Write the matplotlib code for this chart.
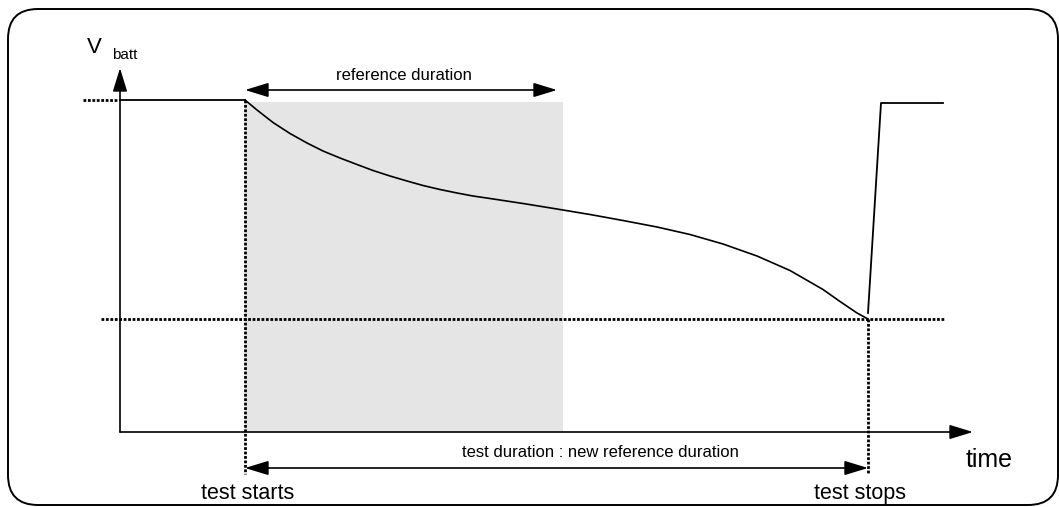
import matplotlib.pyplot as plt
from matplotlib.patches import FancyBboxPatch, FancyArrowPatch, Rectangle

plt.rcParams['font.family'] = ['Liberation Sans', 'DejaVu Sans']

# Schematic values (x = time, y = voltage, both in picture units, y grows downwards)
t_axis_origin = 120
t_axis_end = 973
v_axis_origin = 432
v_axis_end = 68

v_high = 100
v_cutoff = 319
v_recovered = 103

t_start = 245
t_stop = 868
t_recovered = 881
t_end = 943
t_reference_end = 563

# discharge curve between test start and test stop
discharge_t = [245, 257, 273, 290, 307, 323, 340, 357, 373, 390, 407, 423, 440, 457, 473,
               490, 523, 557, 590, 623, 657, 690, 723, 757, 790, 823, 840, 857, 868]
discharge_v = [100, 110, 122.5, 133.5, 143, 151, 158, 164.5, 170.5, 176, 181, 185.5, 189.5, 193, 196,
               198.5, 203.5, 209, 214.5, 220.5, 227, 234.5, 244, 256, 270.5, 289.5, 301.5, 313, 319]

labels = {
    "vbatt": "V",
    "vbatt_sub": "batt",
    "time": "time",
    "reference": "reference duration",
    "test": "test duration : new reference duration",
    "start": "test starts",
    "stop": "test stops",
}

fig = plt.figure(figsize=(10.59, 5.07), dpi=100)
ax = fig.add_axes([0, 0, 1, 1])
ax.set_xlim(0, 1059)
ax.set_ylim(507, 0)
ax.axis("off")

# outer rounded frame
frame = FancyBboxPatch((8, 9), 1050, 496, boxstyle="round,pad=0,rounding_size=30",
                       facecolor="white", edgecolor="black", linewidth=1.4, zorder=0)
ax.add_patch(frame)

# grey reference window
ax.add_patch(Rectangle((t_start, v_recovered - 1), t_reference_end - t_start, v_axis_origin - v_recovered + 1,
                       facecolor="#e5e5e5", edgecolor="none", zorder=1))

def arrow(p0, p1, style):
    a = FancyArrowPatch(p0, p1, arrowstyle=style, mutation_scale=20, shrinkA=0, shrinkB=0,
                        color="black", linewidth=1.2, zorder=5)
    ax.add_patch(a)

headStyle = "-|>,head_length=0.72,head_width=0.22"
bothStyle = "<|-|>,head_length=0.72,head_width=0.22"

# axes
arrow((t_axis_origin, v_axis_origin), (t_axis_origin, v_axis_end), headStyle)
arrow((t_axis_origin, v_axis_origin), (t_axis_end, v_axis_origin), headStyle)

# dotted guides
dotStyle = dict(color="black", linewidth=2.0, linestyle=(0, (1, 0.6)), zorder=3)
ax.plot([83, t_axis_origin - 2], [v_high, v_high], **dotStyle)
ax.plot([101, 944], [v_cutoff, v_cutoff], **dotStyle)
ax.plot([t_start, t_start], [v_high, 474], **dotStyle)
ax.plot([t_stop, t_stop], [v_cutoff, 474], **dotStyle)

# battery voltage trace
ax.plot([t_axis_origin, t_start], [v_high, v_high], color="black", linewidth=1.3, zorder=4)
ax.plot(discharge_t, discharge_v, color="black", linewidth=1.2, zorder=4, solid_joinstyle="round")
ax.plot([t_stop, t_recovered, t_end], [313, v_recovered, v_recovered], color="black", linewidth=1.3, zorder=4)

# duration arrows
arrow((t_start, 90), (557, 90), bothStyle)
arrow((t_start, 468), (t_stop, 468), bothStyle)

# text
ax.text(87, 53, labels["vbatt"], fontsize=16, ha="left", va="baseline")
ax.text(112, 59, labels["vbatt_sub"], fontsize=11, ha="left", va="baseline")
ax.text(989, 467, labels["time"], fontsize=18, ha="center", va="baseline")
ax.text(404, 80, labels["reference"], fontsize=12, ha="center", va="baseline")
ax.text(600, 457, labels["test"], fontsize=12, ha="center", va="baseline")
ax.text(248, 499, labels["start"], fontsize=15.5, ha="center", va="baseline")
ax.text(860, 499, labels["stop"], fontsize=15.5, ha="center", va="baseline")

fig.savefig("out.png", dpi=100)
